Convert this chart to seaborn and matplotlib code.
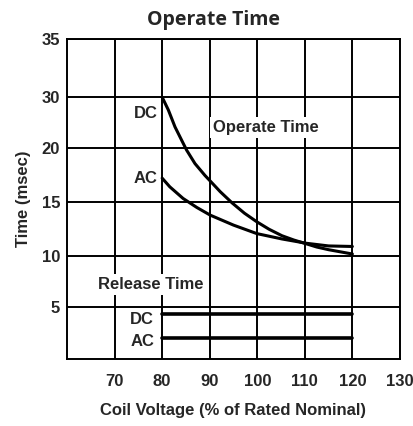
import numpy as np
import pandas as pd
import seaborn as sns
import matplotlib.pyplot as plt

# Values
dc_voltage = [80, 81.3, 82.7, 84.1, 85.15, 86.9, 89.0, 90.8, 92.2, 94.7, 97.3, 99.9,
              102.5, 105.2, 107.7, 110.3, 112.5, 115.0, 117.5, 120]
dc_operate = [30, 27.5, 24.2, 21.6, 19.84, 18.6, 17.5, 16.66, 16.0, 14.96, 14.0, 13.2,
              12.5, 11.9, 11.5, 11.15, 10.85, 10.6, 10.4, 10.2]
ac_voltage = [80, 81.6, 84.4, 87.3, 90.1, 95.0, 99.9, 105.2, 110.3, 115.0, 120]
ac_operate = [17.25, 16.45, 15.37, 14.53, 13.82, 12.89, 12.1, 11.6, 11.2, 10.95, 10.9]
release_voltage = [80, 120]
dc_release = [4.3, 4.3]
ac_release = [2.0, 2.0]

x_ticks = [70, 80, 90, 100, 110, 120, 130]
y_ticks = [5, 10, 15, 20, 30, 35]

sns.set_style("white")
plt.rcParams['font.family'] = ['Liberation Sans', 'DejaVu Sans']

fig = plt.figure(figsize=(4.14, 4.26), dpi=100)
ax = fig.add_axes([0.162, 0.157, 0.804, 0.751])

# the y axis is not linear: the 20-30 band takes the room of 5 units
y_tick_pos = [0, 5, 10, 15, 20, 30, 35]
y_disp_pos = [0, 52, 103, 156.7, 210.7, 262, 320]

def fwd(y):
    return np.interp(y, y_tick_pos, y_disp_pos)

def inv(y):
    return np.interp(y, y_disp_pos, y_tick_pos)

ax.set_yscale('function', functions=(fwd, inv))

df_dc = pd.DataFrame({'v': dc_voltage, 't': dc_operate})
df_ac = pd.DataFrame({'v': ac_voltage, 't': ac_operate})
sns.lineplot(data=df_dc, x='v', y='t', color='black', lw=2.2, ax=ax)
sns.lineplot(data=df_ac, x='v', y='t', color='black', lw=2.2, ax=ax)
sns.lineplot(x=release_voltage, y=dc_release, color='black', lw=2.6, ax=ax)
sns.lineplot(x=release_voltage, y=ac_release, color='black', lw=2.6, ax=ax)

ax.set_xlim(60, 130)
ax.set_ylim(0, 35)
ax.set_xticks(x_ticks)
ax.set_yticks(y_ticks)
ax.set_xticklabels([str(t) for t in x_ticks], fontsize=12, fontweight='bold')
ax.set_yticklabels([str(t) for t in y_ticks], fontsize=12, fontweight='bold')
ax.tick_params(axis='x', length=0, pad=11)
ax.tick_params(axis='y', length=0, pad=5)
ax.grid(True, color='black', lw=1.4)
for s in ax.spines.values():
    s.set_color('black')
    s.set_linewidth(1.4)

ax.set_xlabel('Coil Voltage (% of Rated Nominal)', fontsize=12, fontweight='bold', labelpad=10)
ax.set_ylabel('Time (msec)', fontsize=12, fontweight='bold', labelpad=8)
ax.set_title('Operate Time', fontsize=14, fontweight='bold', family='Open Sans', pad=10, x=0.44)

lbl = dict(fontsize=12, fontweight='bold', va='center')
ax.text(79.1, 26.9, 'DC', ha='right', **lbl)
ax.text(79.1, 17.25, 'AC', ha='right', **lbl)
ax.text(78.3, 3.85, 'DC', ha='right', **lbl)
ax.text(78.3, 1.73, 'AC', ha='right', **lbl)
box = dict(facecolor='white', edgecolor='none', pad=2)
ax.text(90.7, 24.15, 'Operate Time', ha='left', bbox=box, **lbl)
ax.text(66.4, 7.25, 'Release Time', ha='left', bbox=box, **lbl)

fig.savefig('out.png', dpi=100)
